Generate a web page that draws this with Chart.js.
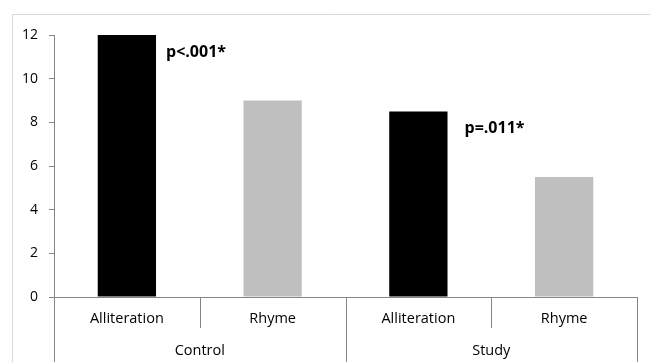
<!DOCTYPE html>
<html>
<head>
<meta charset="utf-8">
<script src="https://cdn.jsdelivr.net/npm/chart.js@4"></script>
<style>
    html, body { margin: 0; padding: 0; background: #fff; }
    #wrap { width: 650px; height: 362px; position: relative; }
</style>
</head>
<body>
<div id="wrap"><canvas id="chart"></canvas></div>
<script>
// data
const categories = ["Alliteration", "Rhyme", "Alliteration", "Rhyme"];
const groups = ["Control", "Study"];
const values = [12, 9, 8.5, 5.5];
const barColors = ["#000000", "#bfbfbf", "#000000", "#bfbfbf"];
const yTicks = [0, 2, 4, 6, 8, 10, 12];
const noteBars = [0, 2];
const noteTexts = ["p<.001*", "p=.011*"];

const FONT = "'Open Sans', 'Liberation Sans', sans-serif";
const AXIS_GRAY = "#868686";
const NOTE_DX = [10, 17];

// light frame round the plot like the pasted Excel figure
const framePlugin = {
    id: "frame",
    beforeDraw(chart) {
        const ctx = chart.ctx;
        ctx.save();
        ctx.strokeStyle = "#d9d9d9";
        ctx.lineWidth = 1;
        ctx.beginPath();
        ctx.moveTo(12.5, 362);
        ctx.lineTo(12.5, 14.5);
        ctx.lineTo(650, 14.5);
        ctx.stroke();
        ctx.restore();
    },
};

// two-level category axis: separators and group names
const groupAxisPlugin = {
    id: "groupAxis",
    afterDraw(chart) {
        const x = chart.scales.x;
        const ctx = chart.ctx;
        const top = x.top;
        const half = (x.getPixelForValue(1) - x.getPixelForValue(0)) / 2;
        const per = categories.length / groups.length;
        ctx.save();
        ctx.strokeStyle = AXIS_GRAY;
        ctx.lineWidth = 1;
        for (let i = 0; i <= categories.length; i++) {
            const px = Math.round(i < categories.length
                ? x.getPixelForValue(i) - half
                : x.getPixelForValue(i - 1) + half) + 0.5;
            const isGroupEdge = i % per === 0;
            ctx.beginPath();
            ctx.moveTo(px, top);
            ctx.lineTo(px, isGroupEdge ? chart.height : top + 31);
            ctx.stroke();
        }
        ctx.fillStyle = "#000";
        ctx.font = "14.5px " + FONT;
        ctx.textAlign = "center";
        ctx.textBaseline = "middle";
        groups.forEach((g, gi) => {
            const a = x.getPixelForValue(gi * per);
            const b = x.getPixelForValue(gi * per + per - 1);
            ctx.fillText(g, (a + b) / 2, top + 54);
        });
        ctx.restore();
    },
};

// p-value notes beside the black bars
const notesPlugin = {
    id: "notes",
    afterDatasetsDraw(chart) {
        const meta = chart.getDatasetMeta(0);
        const ctx = chart.ctx;
        ctx.save();
        ctx.fillStyle = "#000";
        ctx.font = "bold 16px " + FONT;
        ctx.textAlign = "left";
        ctx.textBaseline = "middle";
        noteBars.forEach((idx, k) => {
            const bar = meta.data[idx];
            ctx.fillText(noteTexts[k], bar.x + bar.width / 2 + NOTE_DX[k], bar.y + 17);
        });
        ctx.restore();
    },
};

new Chart(document.getElementById("chart"), {
    type: "bar",
    data: {
        labels: categories,
        datasets: [{
            data: values,
            backgroundColor: barColors,
            borderWidth: 0,
            barPercentage: 0.4,
            categoryPercentage: 1.0,
        }],
    },
    options: {
        responsive: true,
        maintainAspectRatio: false,
        animation: false,
        layout: { padding: { top: 35, right: 13, left: 0, bottom: 0 } },
        plugins: {
            legend: { display: false },
            tooltip: { enabled: false },
        },
        scales: {
            x: {
                grid: { display: false, drawTicks: false },
                border: { display: true, color: AXIS_GRAY },
                ticks: {
                    color: "#000",
                    padding: 13,
                    maxRotation: 0,
                    font: { family: FONT, size: 14.5 },
                },
                afterFit(scale) { scale.height = 65; },
            },
            y: {
                min: 0,
                max: 12,
                afterBuildTicks(scale) {
                    scale.ticks = yTicks.map((v) => ({ value: v }));
                },
                grid: {
                    drawOnChartArea: false,
                    drawTicks: true,
                    tickLength: 5,
                    color: AXIS_GRAY,
                },
                border: { display: true, color: AXIS_GRAY },
                ticks: {
                    color: "#000",
                    padding: 11,
                    font: { family: FONT, size: 14 },
                },
                afterFit(scale) { scale.width = 54; },
            },
        },
    },
    plugins: [framePlugin, groupAxisPlugin, notesPlugin],
});
</script>
</body>
</html>
